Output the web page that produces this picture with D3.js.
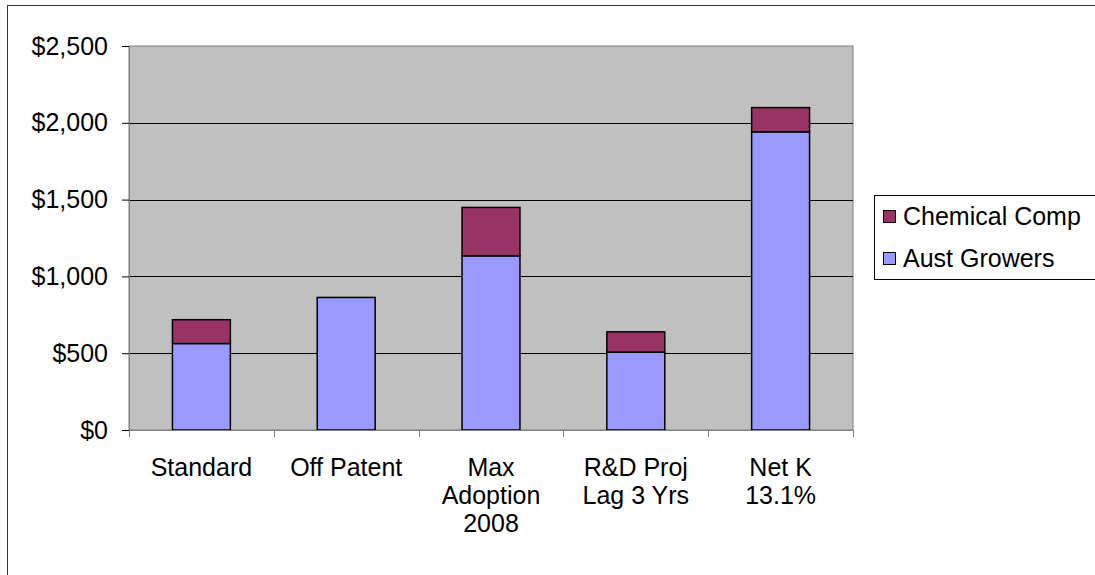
<!DOCTYPE html>
<html>
<head>
<meta charset="utf-8">
<script src="https://cdn.jsdelivr.net/npm/d3@7"></script>
<style>
  body { margin: 0; background: #fff; }
  svg { display: block; font-family: "Liberation Sans", Arial, sans-serif; }
</style>
</head>
<body>
<svg id="chart" width="1095" height="575"></svg>
<script>
// scenario categories (multi-line labels)
let categories = [
  ['Standard'],
  ['Off Patent'],
  ['Max', 'Adoption', '2008'],
  ['R&D Proj', 'Lag 3 Yrs'],
  ['Net K', '13.1%']
]
let austGrowers = [563, 863, 1134, 507, 1941]
let chemicalComp = [155, 0, 315, 132, 158]
let yTicks = [0, 500, 1000, 1500, 2000, 2500]
let seriesNames = ['Chemical Comp', 'Aust Growers']
let seriesColors = ['#993366', '#9999ff']

let svg = d3.select('#chart')
let fontSize = 25

let plot = {left: 129, top: 46, right: 853, bottom: 430}

// outer chart border
svg.append('rect')
   .attr('x', 7.5).attr('y', 5.5)
   .attr('width', 1200).attr('height', 700)
   .attr('fill', 'none').attr('stroke', '#333').attr('stroke-width', 1)

let keys = categories.map(c => c.join(' '))

let xScale = d3.scaleBand()
               .domain(keys)
               .range([plot.left, plot.right])
               .paddingInner(0.6)
               .paddingOuter(0.3)

let yScale = d3.scaleLinear()
               .domain([0, 2500])
               .range([plot.bottom, plot.top])

// plot area
svg.append('rect')
   .attr('x', plot.left).attr('y', plot.top)
   .attr('width', plot.right - plot.left)
   .attr('height', plot.bottom - plot.top)
   .attr('fill', '#c0c0c0')
   .attr('stroke', '#808080')

// gridlines
svg.selectAll('.grid')
   .data(yTicks.filter(t => t > 0 && t < 2500))
   .enter()
   .append('line')
   .attr('x1', plot.left).attr('x2', plot.right)
   .attr('y1', d => Math.round(yScale(d)) + 0.5)
   .attr('y2', d => Math.round(yScale(d)) + 0.5)
   .attr('stroke', '#000')

// stacked bars
let rows = keys.map((k, i) => ({key: k, aust: austGrowers[i], chem: chemicalComp[i]}))
let stacked = d3.stack().keys(['aust', 'chem'])(rows)
let colorFor = {aust: seriesColors[1], chem: seriesColors[0]}

stacked.forEach(layer => {
  svg.append('g')
     .selectAll('rect')
     .data(layer.filter(d => d[1] - d[0] > 0))
     .enter()
     .append('rect')
     .attr('x', d => xScale(d.data.key))
     .attr('width', xScale.bandwidth())
     .attr('y', d => yScale(d[1]))
     .attr('height', d => yScale(d[0]) - yScale(d[1]))
     .attr('fill', colorFor[layer.key])
     .attr('stroke', '#000')
     .attr('stroke-width', 1.5)
})

// y axis
let yAxis = d3.axisLeft(yScale)
              .tickValues(yTicks)
              .tickSize(7)
              .tickFormat(d => '$' + d3.format(',')(d))
let yG = svg.append('g')
            .attr('transform', 'translate(' + plot.left + ',0)')
            .call(yAxis)
yG.select('.domain').attr('stroke', '#808080')
yG.selectAll('.tick line').attr('stroke', '#000')
yG.selectAll('text')
  .attr('font-size', fontSize).attr('fill', '#000')
  .attr('font-family', '"Liberation Sans", Arial, sans-serif')
  .attr('x', -21)

// x axis: ticks on category boundaries
let step = xScale.step()
let edges = d3.range(keys.length + 1).map(i => plot.left + i * step)
let xAxisG = svg.append('g')
xAxisG.append('line')
      .attr('x1', plot.left).attr('x2', plot.right)
      .attr('y1', plot.bottom + 0.5).attr('y2', plot.bottom + 0.5)
      .attr('stroke', '#808080')
xAxisG.selectAll('.xtick')
      .data(edges)
      .enter()
      .append('line')
      .attr('x1', d => Math.round(d) + 0.5).attr('x2', d => Math.round(d) + 0.5)
      .attr('y1', plot.bottom).attr('y2', plot.bottom + 7)
      .attr('stroke', '#808080')

let labels = svg.append('g')
                .selectAll('text')
                .data(categories)
                .enter()
                .append('text')
                .attr('text-anchor', 'middle')
                .attr('font-size', fontSize)
                .attr('x', (d, i) => xScale(keys[i]) + xScale.bandwidth() / 2)
                .attr('y', 476)
labels.selectAll('tspan')
      .data(d => d)
      .enter()
      .append('tspan')
      .attr('x', function() { return d3.select(this.parentNode).attr('x') })
      .attr('dy', (d, i) => i === 0 ? 0 : 28)
      .text(d => d)

// legend
let legend = svg.append('g')
legend.append('rect')
      .attr('x', 874.5).attr('y', 195.5)
      .attr('width', 240).attr('height', 84)
      .attr('fill', '#fff').attr('stroke', '#000')
seriesNames.forEach((name, i) => {
  legend.append('rect')
        .attr('x', 883.5).attr('y', 210.5 + i * 42)
        .attr('width', 12).attr('height', 12)
        .attr('fill', seriesColors[i]).attr('stroke', '#000')
  legend.append('text')
        .attr('x', 903).attr('y', 225 + i * 42)
        .attr('font-size', fontSize)
        .text(name)
})
</script>
</body>
</html>
